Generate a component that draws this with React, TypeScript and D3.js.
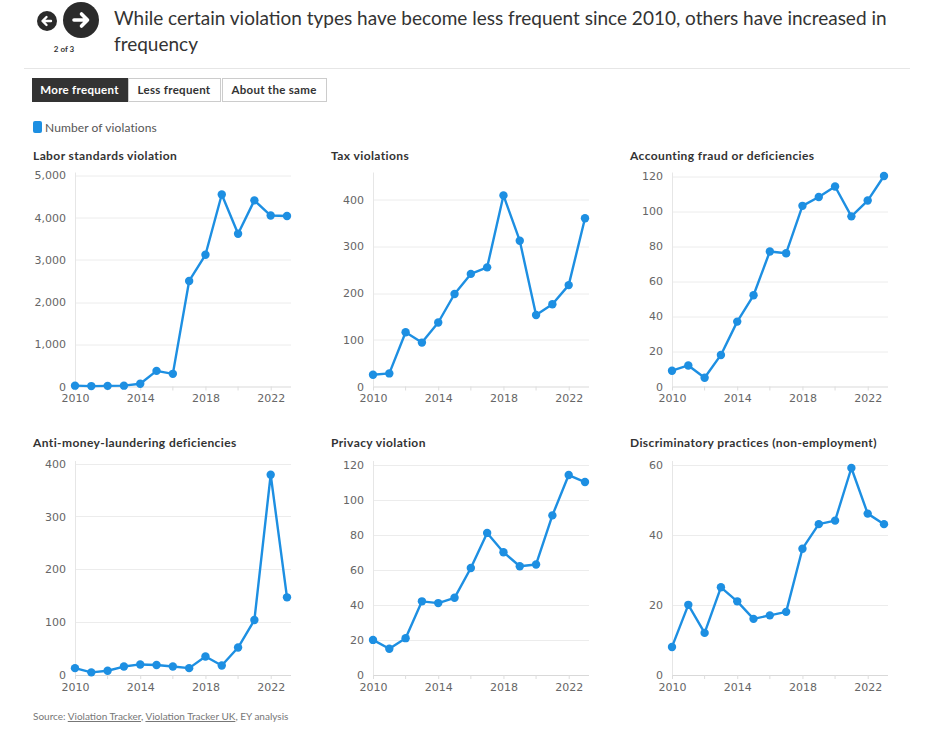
import { useEffect, useRef } from 'react';
import * as d3 from 'd3';

const years = [2010, 2011, 2012, 2013, 2014, 2015, 2016, 2017, 2018, 2019, 2020, 2021, 2022, 2023];
const labeledYears = [2010, 2014, 2018, 2022];
const minorYears = [2012, 2016, 2020];

const laborValues = [20, 10, 15, 20, 65, 370, 300, 2500, 3120, 4550, 3620, 4410, 4050, 4040];
const taxValues = [25, 28, 116, 94, 137, 198, 241, 255, 409, 312, 153, 176, 217, 360];
const accountingValues = [9, 12, 5, 18, 37, 52, 77, 76, 103, 108, 114, 97, 106, 120];
const amlValues = [13, 5, 8, 16, 20, 19, 16, 13, 35, 18, 52, 104, 379, 147];
const privacyValues = [20, 15, 21, 42, 41, 44, 61, 81, 70, 62, 63, 91, 114, 110];
const discrimValues = [8, 20, 12, 25, 21, 16, 17, 18, 36, 43, 44, 59, 46, 43];

const panelTitles = [
  'Labor standards violation',
  'Tax violations',
  'Accounting fraud or deficiencies',
  'Anti-money-laundering deficiencies',
  'Privacy violation',
  'Discriminatory practices (non-employment)',
];
const panelValues = [laborValues, taxValues, accountingValues, amlValues, privacyValues, discrimValues];
const panelMax = [5070, 458, 122, 405, 122, 61];
const panelTicks = [
  [0, 1000, 2000, 3000, 4000, 5000],
  [0, 100, 200, 300, 400],
  [0, 20, 40, 60, 80, 100, 120],
  [0, 100, 200, 300, 400],
  [0, 20, 40, 60, 80, 100, 120],
  [0, 20, 40, 60],
];

const buttonLabels = ['More frequent', 'Less frequent', 'About the same'];

const BLUE = '#1d8fe2';
const colX = [75, 373, 672];
const rowZero = [386.5, 675];
const plotH = 214;
const plotW = 212;

export default function App() {
  const svgRef = useRef<SVGSVGElement | null>(null);

  useEffect(() => {
    if (!svgRef.current) return;
    const svg = d3.select(svgRef.current);
    svg.selectAll('*').remove();

    // header: nav buttons
    const nav = svg.append('g');
    nav.append('circle').attr('cx', 47).attr('cy', 21).attr('r', 10).attr('fill', '#2b2b2b');
    nav.append('path')
      .attr('d', 'M51,21 H43 M46.5,17 L42.5,21 L46.5,25')
      .attr('stroke', '#fff').attr('stroke-width', 2.4).attr('fill', 'none')
      .attr('stroke-linecap', 'round').attr('stroke-linejoin', 'round');
    nav.append('circle').attr('cx', 81).attr('cy', 20).attr('r', 18).attr('fill', '#2b2b2b');
    nav.append('path')
      .attr('d', 'M74,20 H87 M81.5,14 L87.5,20 L81.5,26')
      .attr('stroke', '#fff').attr('stroke-width', 3.6).attr('fill', 'none')
      .attr('stroke-linecap', 'round').attr('stroke-linejoin', 'round');
    nav.append('text').attr('x', 64).attr('y', 52).attr('text-anchor', 'middle')
      .attr('font-family', 'Lato, sans-serif').attr('font-size', 8).attr('font-weight', 700)
      .attr('fill', '#333').text('2 of 3');

    const title = svg.append('text')
      .attr('font-family', 'Lato, sans-serif')
      .attr('font-size', 19).attr('fill', '#333');
    title.append('tspan').attr('x', 114).attr('y', 25)
      .text('While certain violation types have become less frequent since 2010, others have increased in');
    title.append('tspan').attr('x', 114).attr('y', 51).text('frequency');

    svg.append('line').attr('x1', 24).attr('x2', 910).attr('y1', 68.5).attr('y2', 68.5)
      .attr('stroke', '#e6e6e6');

    // toggle buttons
    const btnX = [32, 128, 222];
    const btnW = [95, 92, 104];
    buttonLabels.forEach((label, i) => {
      const g = svg.append('g');
      g.append('rect').attr('x', btnX[i] + 0.5).attr('y', 78.5).attr('width', btnW[i]).attr('height', 23)
        .attr('fill', i === 0 ? '#333' : '#fff').attr('stroke', i === 0 ? '#333' : '#ccc');
      g.append('text').attr('x', btnX[i] + btnW[i] / 2).attr('y', 94).attr('text-anchor', 'middle')
        .attr('font-family', 'Lato, sans-serif').attr('font-size', 11.5).attr('font-weight', 700)
        .attr('letter-spacing', 0.3)
        .attr('fill', i === 0 ? '#fff' : '#333').text(label);
    });

    // legend
    svg.append('rect').attr('x', 33).attr('y', 121).attr('width', 9).attr('height', 12).attr('rx', 2)
      .attr('fill', BLUE);
    svg.append('text').attr('x', 45).attr('y', 132)
      .attr('font-family', 'Lato, sans-serif').attr('font-size', 12).attr('letter-spacing', 0.1)
      .attr('fill', '#555').text('Number of violations');

    const x = d3.scaleLinear().domain([2010, 2023]).range([0, plotW]);

    panelTitles.forEach((t, i) => {
      const col = i % 3;
      const row = Math.floor(i / 3);
      const g = svg.append('g')
        .attr('transform', `translate(${colX[col]},${rowZero[row] - plotH})`);
      const y = d3.scaleLinear().domain([0, panelMax[i]]).range([plotH, 0]);

      g.append('text').attr('x', -42).attr('y', row === 0 ? -12.5 : -14)
        .attr('font-family', 'Lato, sans-serif').attr('font-size', 12).attr('font-weight', 700)
        .attr('letter-spacing', 0.4).attr('fill', '#333').text(t);

      // gridlines
      g.append('g').selectAll('line').data(panelTicks[i]).join('line')
        .attr('x1', 0).attr('x2', plotW + 4)
        .attr('y1', (d) => Math.round(y(d)) + 0.5).attr('y2', (d) => Math.round(y(d)) + 0.5)
        .attr('stroke', (d) => (d === 0 ? '#d9d9d9' : '#ececec'));

      g.append('line').attr('x1', 0.5).attr('x2', 0.5).attr('y1', 0).attr('y2', plotH)
        .attr('stroke', '#e6e6e6');

      // y axis labels
      const yAxis = g.append('g')
        .call(d3.axisLeft(y).tickValues(panelTicks[i]).tickSize(0).tickPadding(9).tickFormat(d3.format(',')) as any);
      yAxis.select('.domain').remove();
      yAxis.selectAll('text').attr('font-family', '"DejaVu Sans", sans-serif').attr('font-size', 11)
        .attr('fill', '#666');

      // x axis
      const xAxis = g.append('g').attr('transform', `translate(0,${plotH})`)
        .call(d3.axisBottom(x).tickValues(labeledYears).tickSize(4).tickPadding(4).tickFormat(d3.format('d')) as any);
      xAxis.select('.domain').remove();
      xAxis.selectAll('line').attr('stroke', '#ddd');
      xAxis.selectAll('text').attr('font-family', '"DejaVu Sans", sans-serif').attr('font-size', 11)
        .attr('fill', '#666');
      g.append('g').attr('transform', `translate(0,${plotH})`).selectAll('line').data(minorYears).join('line')
        .attr('x1', (d) => x(d)).attr('x2', (d) => x(d)).attr('y1', 0).attr('y2', 4).attr('stroke', '#ddd');

      const line = d3.line<number>().x((_, j) => x(years[j])).y((d) => y(d));
      g.append('path').datum(panelValues[i]).attr('d', line).attr('fill', 'none')
        .attr('stroke', BLUE).attr('stroke-width', 2.4).attr('stroke-linejoin', 'round');
      g.append('g').selectAll('circle').data(panelValues[i]).join('circle')
        .attr('cx', (_, j) => x(years[j])).attr('cy', (d) => y(d)).attr('r', 4.2).attr('fill', BLUE);
    });

    // source
    const src = svg.append('text').attr('x', 33).attr('y', 720)
      .attr('font-family', 'Lato, sans-serif').attr('font-size', 10).attr('fill', '#777');
    src.append('tspan').text('Source: ');
    src.append('tspan').attr('text-decoration', 'underline').text('Violation Tracker');
    src.append('tspan').text(', ');
    src.append('tspan').attr('text-decoration', 'underline').text('Violation Tracker UK');
    src.append('tspan').text(', EY analysis');
  }, []);

  return (
    <svg
      ref={svgRef}
      width={942}
      height={736}
      style={{ position: 'absolute', left: 0, top: 0, background: '#fff' }}
    />
  );
}
